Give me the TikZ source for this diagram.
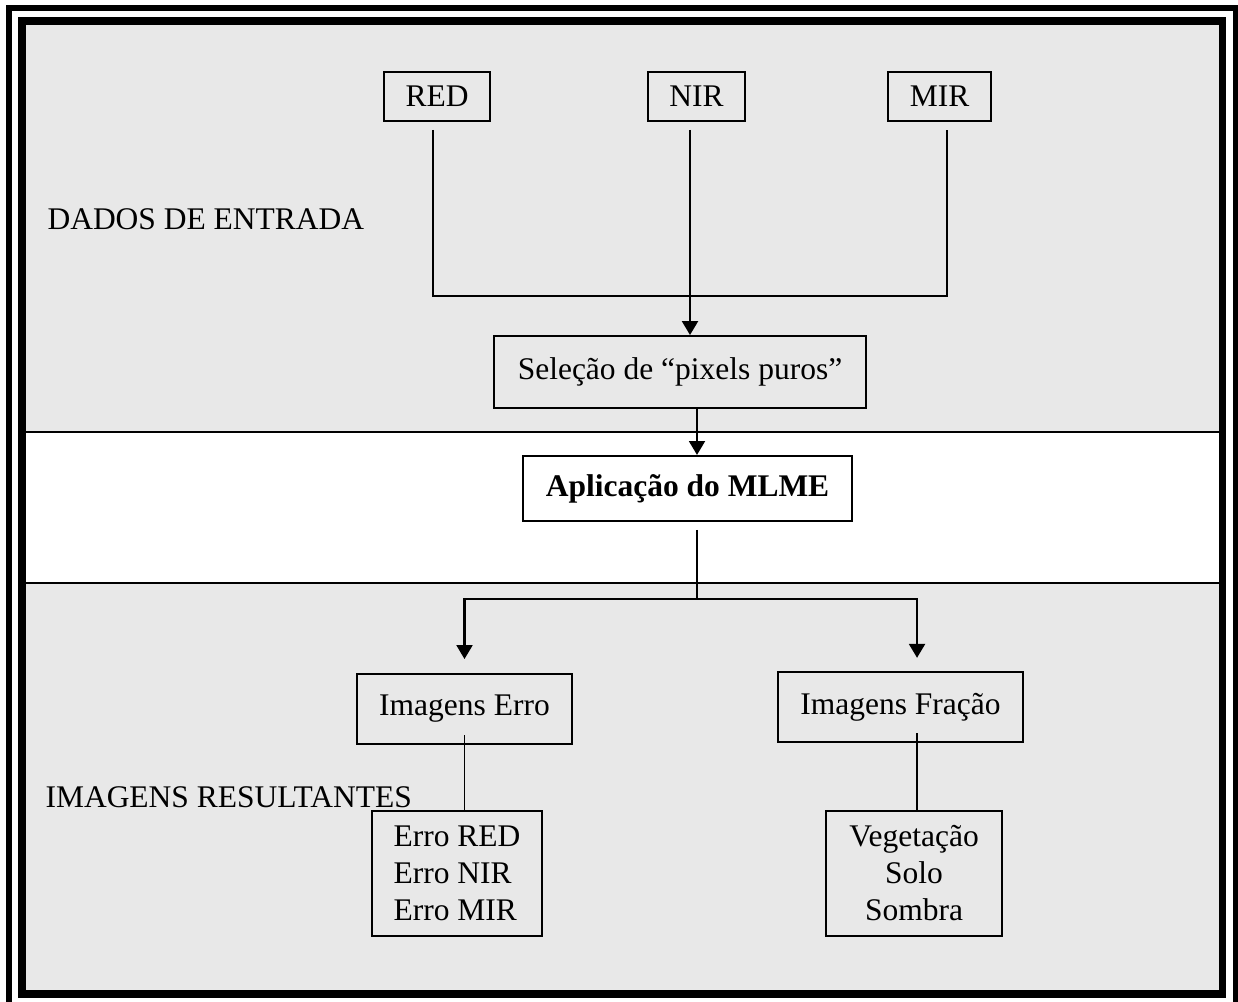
\documentclass[tikz,border=0pt]{standalone}
\usepackage{fontspec}
\setmainfont{Liberation Serif}
\usetikzlibrary{shapes,arrows.meta}
\definecolor{cinza}{HTML}{E8E8E8}

\begin{document}
\begin{tikzpicture}[x=0.381pt,y=-0.381pt,
		caixa/.style={draw, line width=0.75pt, inner sep=0pt, font=\fontsize{12}{14.1}\selectfont},
		rotulo/.style={inner sep=0pt, font=\fontsize{12}{14.1}\selectfont},
		ligacao/.style={line width=0.65pt},
		seta/.style={line width=1pt, -{Triangle[length=5.3pt,width=6pt]}}]
		\useasboundingbox (0,0) rectangle (1238,1002);
		\fill[cinza] (22,21) rectangle (1222.5,994);
		\fill[white] (22,432) rectangle (1222.5,583);
		\draw[line width=0.75pt] (22,432) -- (1222.5,432) (22,583) -- (1222.5,583);
		\draw[line width=3pt] (22,21) rectangle (1222.5,994);
		\draw[line width=2.3pt] (9,8) rectangle (1236,1005);

		\node[caixa, minimum width=40.4pt, minimum height=18.7pt] (red) at (437,96.5) {RED};
		\node[caixa, minimum width=37pt, minimum height=18.7pt] (nir) at (696.5,96.5) {NIR};
		\node[caixa, minimum width=39.2pt, minimum height=18.7pt] (mir) at (939.5,96.5) {MIR};
		\node[caixa, minimum width=141.7pt, minimum height=27.4pt] (selecao) at (680,372) {Seleção de “pixels puros”};
		\node[caixa, fill=white, minimum width=125.3pt, minimum height=24.8pt, font=\fontsize{12}{14.1}\selectfont\bfseries] (mlme) at (687.5,488.5) {Aplicação do MLME};
		\node[caixa, minimum width=81.9pt, minimum height=26.7pt] (imgerro) at (464.5,709) {Imagens Erro};
		\node[caixa, minimum width=93.3pt, minimum height=26.7pt] (imgfracao) at (900.5,707) {Imagens Fração};
		\node[caixa, align=left, minimum width=64.8pt, minimum height=47.6pt] (erros) at (457,873.5) {Erro RED\\Erro NIR\\Erro MIR};
		\node[caixa, align=center, minimum width=67.1pt, minimum height=47.6pt] (fracoes) at (914,873.5) {Vegetação\\Solo\\Sombra};
		\node[rotulo, anchor=west] (entrada) at (47,219) {DADOS DE ENTRADA};
		\node[rotulo, anchor=west] (resultantes) at (45,797) {IMAGENS RESULTANTES};

		\coordinate (juncao) at (690,296);
		\coordinate (divisao) at (697,599);
		\draw[ligacao, shorten <=3pt, shorten >=3pt] ([xshift=-1.5pt]red.south) |- (juncao) -| ([xshift=2.9pt]mir.south);
		\draw[seta, shorten <=3pt] (juncao |- nir.south) -- (juncao |- selecao.north);
		\draw[seta] (divisao |- selecao.south) -- (divisao |- mlme.north);
		\draw[ligacao, shorten <=3pt] (divisao |- mlme.south) -- (divisao);
		\draw[seta, shorten >=5.3pt] (divisao) -| (imgerro.north);
		\draw[seta, shorten >=5pt] (divisao) -| ([xshift=6.3pt]imgfracao.north);
		\draw[ligacao, shorten <=-3.8pt] (imgerro.south) -- (imgerro.south |- erros.north);
		\draw[ligacao, shorten <=-3.8pt] ([xshift=6.3pt]imgfracao.south) coordinate (ramo) -- (ramo |- fracoes.north);
\end{tikzpicture}
\end{document}
